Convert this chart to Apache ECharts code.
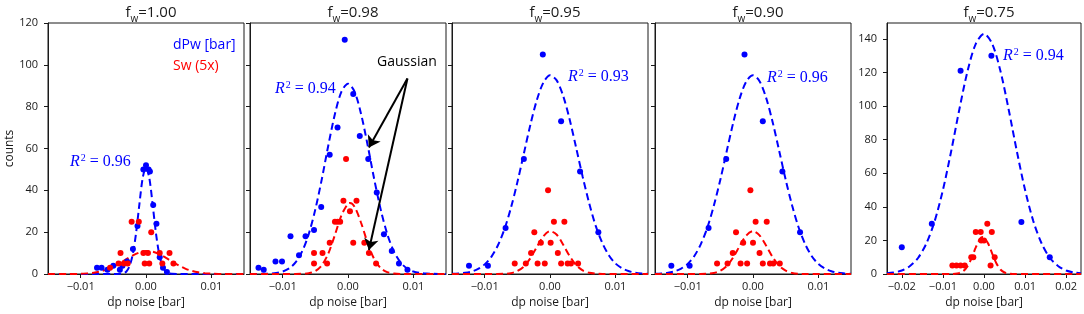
<!DOCTYPE html>
<html>
<head>
<meta charset="utf-8">
<script src="https://cdn.jsdelivr.net/npm/echarts@6/dist/echarts.min.js"></script>
<style>
  html, body { margin: 0; padding: 0; background: #fff; }
  #chart { width: 1084px; height: 314px; }
</style>
</head>
<body>
<div id="chart"></div>
<script>
// panel titles (f_w) and fit quality
const fwLabels = ['1.00', '0.98', '0.95', '0.90', '0.75'];
const r2Labels = ['0.96', '0.94', '0.93', '0.96', '0.94'];

// tick labels
const xTicks = [-0.01, 0, 0.01];
const xTicksWide = [-0.02, -0.01, 0, 0.01, 0.02];
const yTicks = [0, 20, 40, 60, 80, 100, 120];
const yTicksWide = [0, 20, 40, 60, 80, 100, 120, 140];

// f_w = 1.00
const dPw1 = [[-0.0075, 3], [-0.0068, 3], [-0.0059, 2], [-0.0050, 4], [-0.0040, 2], [-0.0036, 4], [-0.0029, 6],
  [-0.0020, 12], [-0.0013, 23], [-0.0004, 50], [0.0000, 52], [0.0004, 50], [0.0006, 49], [0.0011, 33],
  [0.0016, 24], [0.0021, 8], [0.0026, 3], [0.0032, 1]];
const sw1 = [[-0.0055, 3], [-0.0042, 5], [-0.0039, 10], [-0.0034, 5], [-0.0028, 5], [-0.0022, 25], [-0.0011, 25],
  [-0.0004, 10], [-0.0002, 5], [0.0003, 10], [0.0005, 5], [0.0008, 20], [0.0021, 10], [0.0025, 5],
  [0.0036, 10], [0.0042, 5]];
const dPwFit1 = [[-0.015, 0], [-0.005, 0], [-0.004, 0.1], [-0.0035, 0.3], [-0.003, 1.2], [-0.0025, 3.9], [-0.002, 9.8],
  [-0.0015, 20.1], [-0.001, 33.7], [-0.0005, 46], [0, 51], [0.0005, 46], [0.001, 33.7], [0.0015, 20.1],
  [0.002, 9.8], [0.0025, 3.9], [0.003, 1.2], [0.0035, 0.3], [0.004, 0.1], [0.005, 0], [0.015, 0]];
const swFit1 = [[-0.015, 0], [-0.012, 0], [-0.010, 0.1], [-0.009, 0.3], [-0.008, 0.6], [-0.007, 1.2], [-0.006, 2.1],
  [-0.005, 3.4], [-0.004, 5.1], [-0.003, 7.1], [-0.002, 8.9], [-0.001, 10.3], [0, 11], [0.001, 10.7],
  [0.002, 9.6], [0.003, 7.8], [0.004, 5.9], [0.005, 4.1], [0.006, 2.6], [0.007, 1.5], [0.008, 0.8],
  [0.009, 0.4], [0.010, 0.2], [0.012, 0], [0.015, 0]];

// f_w = 0.98
const dPw2 = [[-0.0137, 3], [-0.0129, 2], [-0.0111, 6], [-0.0101, 6], [-0.0088, 18], [-0.0075, 9], [-0.0065, 18],
  [-0.0052, 21], [-0.0041, 32], [-0.0028, 57], [-0.0016, 70], [-0.0005, 112], [0.0008, 86], [0.0018, 66],
  [0.0031, 55], [0.0044, 39], [0.0055, 19], [0.0067, 11], [0.0078, 5], [0.0091, 2]];
const sw2 = [[-0.0052, 10], [-0.0052, 5], [-0.0039, 10], [-0.0032, 5], [-0.0028, 15], [-0.0020, 25], [-0.0016, 25],
  [-0.0012, 25], [-0.0007, 35], [-0.0003, 55], [0.0003, 30], [0.0008, 15], [0.0013, 35], [0.0025, 15],
  [0.0032, 10], [0.0043, 5]];
const dPwFit2 = [[-0.015, 0], [-0.013, 0.1], [-0.012, 0.2], [-0.011, 0.5], [-0.010, 1.2], [-0.009, 2.7], [-0.008, 5.7],
  [-0.007, 10.9], [-0.006, 19.2], [-0.005, 30.9], [-0.004, 45.5], [-0.003, 61.7], [-0.002, 76.5], [-0.001, 87.2],
  [0, 91], [0.001, 87.2], [0.002, 76.5], [0.003, 61.7], [0.004, 45.5], [0.005, 30.9], [0.006, 19.2],
  [0.007, 10.9], [0.008, 5.7], [0.009, 2.7], [0.010, 1.2], [0.011, 0.5], [0.012, 0.2], [0.013, 0.1], [0.015, 0]];
const swFit2 = [[-0.015, 0], [-0.008, 0], [-0.007, 0.1], [-0.006, 0.4], [-0.005, 1.4], [-0.004, 4.2], [-0.003, 9.9],
  [-0.002, 18.7], [-0.001, 28.1], [0, 33.7], [0.0003, 34], [0.001, 32.2], [0.002, 24.5], [0.003, 14.9],
  [0.004, 7.2], [0.005, 2.8], [0.006, 0.9], [0.007, 0.2], [0.008, 0], [0.015, 0]];

// f_w = 0.95
const dPw3 = [[-0.0124, 4], [-0.0095, 4], [-0.0068, 22], [-0.0040, 55], [-0.0011, 105], [0.0017, 73],
  [0.0046, 49], [0.0074, 20]];
const sw3 = [[-0.0054, 5], [-0.0037, 5], [-0.0029, 10], [-0.0024, 20], [-0.0019, 5], [-0.0014, 15], [-0.0008, 5],
  [-0.0003, 40], [0.0001, 15], [0.0006, 25], [0.0012, 10], [0.0017, 5], [0.0022, 25], [0.0027, 5],
  [0.0032, 5], [0.0043, 5]];
const dPwFit3 = [[-0.015, 0.1], [-0.014, 0.3], [-0.013, 0.6], [-0.012, 1.2], [-0.011, 2.4], [-0.010, 4.6], [-0.009, 8.1],
  [-0.008, 13.5], [-0.007, 21.2], [-0.006, 31.4], [-0.005, 43.8], [-0.004, 57.6], [-0.003, 71.4], [-0.002, 83.3],
  [-0.001, 91.6], [0, 95], [0.001, 92.7], [0.002, 85.3], [0.003, 74], [0.004, 60.4], [0.005, 46.5],
  [0.006, 33.8], [0.007, 23], [0.008, 14.9], [0.009, 9], [0.010, 5.1], [0.011, 2.8], [0.012, 1.4],
  [0.013, 0.7], [0.014, 0.3], [0.015, 0.1]];
const swFit3 = [[-0.015, 0], [-0.008, 0], [-0.007, 0.1], [-0.006, 0.4], [-0.005, 1.4], [-0.004, 3.6], [-0.003, 7.6],
  [-0.002, 13], [-0.001, 18.1], [0, 20.5], [0.001, 18.9], [0.002, 14.1], [0.003, 8.6], [0.004, 4.3],
  [0.005, 1.7], [0.006, 0.6], [0.007, 0.2], [0.008, 0], [0.015, 0]];

// f_w = 0.90
const dPw4 = [[-0.0125, 4], [-0.0097, 4], [-0.0068, 22], [-0.0041, 55], [-0.0013, 105], [0.0015, 73],
  [0.0045, 49], [0.0072, 20]];
const sw4 = [[-0.0055, 5], [-0.0039, 5], [-0.0031, 10], [-0.0026, 20], [-0.0019, 5], [-0.0015, 15], [-0.0009, 5],
  [-0.0004, 40], [0.0000, 15], [0.0004, 25], [0.0010, 10], [0.0015, 5], [0.0021, 25], [0.0026, 5],
  [0.0031, 5], [0.0041, 5]];
const dPwFit4 = [[-0.015, 0.1], [-0.014, 0.3], [-0.013, 0.6], [-0.012, 1.3], [-0.011, 2.6], [-0.010, 4.8], [-0.009, 8.5],
  [-0.008, 14.2], [-0.007, 22.1], [-0.006, 32.6], [-0.005, 45.1], [-0.004, 59], [-0.003, 72.7], [-0.002, 84.3],
  [-0.001, 92.2], [0, 95], [0.001, 92.2], [0.002, 84.3], [0.003, 72.7], [0.004, 59], [0.005, 45.1],
  [0.006, 32.6], [0.007, 22.1], [0.008, 14.2], [0.009, 8.5], [0.010, 4.8], [0.011, 2.6], [0.012, 1.3],
  [0.013, 0.6], [0.014, 0.3], [0.015, 0.1]];
const swFit4 = [[-0.015, 0], [-0.008, 0], [-0.007, 0.1], [-0.006, 0.5], [-0.005, 1.6], [-0.004, 3.9], [-0.003, 8.1],
  [-0.002, 13.6], [-0.001, 18.5], [0, 20.5], [0.001, 18.5], [0.002, 13.6], [0.003, 8.1], [0.004, 3.9],
  [0.005, 1.6], [0.006, 0.5], [0.007, 0.1], [0.008, 0], [0.015, 0]];

// f_w = 0.75
const dPw5 = [[-0.0200, 16], [-0.0127, 30], [-0.0057, 121], [0.0018, 130], [0.0091, 31], [0.0160, 10]];
const sw5 = [[-0.0077, 5], [-0.0067, 5], [-0.0057, 5], [-0.0047, 5], [-0.0031, 10], [-0.0026, 10], [-0.0020, 25],
  [-0.0008, 25], [-0.0007, 20], [0.0000, 20], [0.0008, 30], [0.0016, 5], [0.0019, 25], [0.0026, 10]];
const dPwFit5 = [[-0.0236, 0.5], [-0.022, 0.9], [-0.020, 2.1], [-0.018, 4.8], [-0.016, 9.7], [-0.014, 18.3],
  [-0.012, 31.5], [-0.010, 50], [-0.008, 73], [-0.006, 98], [-0.004, 120.9], [-0.002, 137.1], [0, 143],
  [0.002, 137.1], [0.004, 120.9], [0.006, 98], [0.008, 73], [0.010, 50], [0.012, 31.5], [0.014, 18.3],
  [0.016, 9.7], [0.018, 4.8], [0.020, 2.1], [0.022, 0.9], [0.0236, 0.5]];
const swFit5 = [[-0.0236, 0], [-0.008, 0], [-0.007, 0.1], [-0.006, 0.6], [-0.005, 1.8], [-0.004, 4.7], [-0.003, 9.6],
  [-0.002, 15.8], [-0.001, 20.8], [-0.0003, 22], [0, 21.8], [0.001, 18.2], [0.002, 12.1], [0.003, 6.4],
  [0.004, 2.7], [0.005, 0.9], [0.006, 0.2], [0.007, 0], [0.0236, 0]];

// "Gaussian" arrows (data coords of panel 2)
const arrowStart = [0.0091, 93.5];
const arrowEnds = [[0.0032, 60.5], [0.0032, 11.5]];

const FONT = '"Open Sans", "Noto Sans", sans-serif';
const SERIF = '"Liberation Serif", "DejaVu Serif", serif';
const BLUE = '#0000ff';
const RED = '#ff0000';
const INK = '#1a1a1a';

const panels = [
  { dPw: dPw1, sw: sw1, dPwFit: dPwFit1, swFit: swFit1, left: 48, width: 196, xMax: 0.015, yMax: 120, r2Pos: [70, 163] },
  { dPw: dPw2, sw: sw2, dPwFit: dPwFit2, swFit: swFit2, left: 250, width: 196, xMax: 0.015, yMax: 120, r2Pos: [275, 90] },
  { dPw: dPw3, sw: sw3, dPwFit: dPwFit3, swFit: swFit3, left: 452, width: 196, xMax: 0.015, yMax: 120, r2Pos: [568, 78] },
  { dPw: dPw4, sw: sw4, dPwFit: dPwFit4, swFit: swFit4, left: 655, width: 196, xMax: 0.015, yMax: 120, r2Pos: [767, 79] },
  { dPw: dPw5, sw: sw5, dPwFit: dPwFit5, swFit: swFit5, left: 887, width: 194, xMax: 0.0236, yMax: 149.5, r2Pos: [1003, 57] },
];

function fmtX(v) {
  if (Math.abs(v) < 1e-9) return '0.00';
  return (v < 0 ? '\u2212' : '') + Math.abs(v).toFixed(2);
}

let myChart = echarts.init(document.getElementById('chart'), null, { renderer: 'canvas' });

let grids = [], xAxes = [], yAxes = [], titles = [], series = [], graphics = [];

panels.forEach((p, i) => {
  let wide = i === 4;
  grids.push({
    left: p.left, width: p.width, top: 23, height: 251,
    show: true, borderColor: INK, borderWidth: 1, backgroundColor: 'transparent',
  });
  titles.push({
    text: '{a|f}{s|w}{a|=' + fwLabels[i] + '}',
    left: p.left + p.width / 2, top: 0, textAlign: 'center',
    textStyle: {
      fontWeight: 'normal',
      rich: {
        a: { fontSize: 15, fontWeight: 'normal', fontFamily: FONT, color: INK, verticalAlign: 'bottom', padding: [0, 0, 4, 0] },
        s: { fontSize: 10, fontWeight: 'normal', fontFamily: FONT, color: INK, verticalAlign: 'bottom' },
      },
    },
  });
  let xt = wide ? xTicksWide : xTicks;
  xAxes.push({
    gridIndex: i, type: 'value', min: -p.xMax, max: p.xMax,
    name: 'dp noise [bar]', nameLocation: 'middle', nameGap: 22,
    nameTextStyle: { fontSize: 12, fontFamily: FONT, color: INK },
    axisLine: { show: true, onZero: false, lineStyle: { color: INK } },
    axisTick: { show: true, length: 4, customValues: xt, lineStyle: { color: INK } },
    axisLabel: { customValues: xt, formatter: fmtX, margin: 7, fontSize: 11, fontFamily: FONT, color: INK },
    splitLine: { show: false },
  });
  let yt = wide ? yTicksWide : yTicks;
  yAxes.push({
    gridIndex: i, type: 'value', min: 0, max: p.yMax,
    name: i === 0 ? 'counts' : '', nameLocation: 'middle', nameGap: 32,
    nameTextStyle: { fontSize: 12, fontFamily: FONT, color: INK },
    axisLine: { show: true, onZero: false, lineStyle: { color: INK } },
    axisTick: { show: true, length: 4, customValues: yt, lineStyle: { color: INK } },
    axisLabel: { show: i === 0 || wide, customValues: yt, margin: 10, fontSize: 11, fontFamily: FONT, color: INK },
    splitLine: { show: false },
  });

  // fitted curves
  series.push({
    type: 'line', xAxisIndex: i, yAxisIndex: i, data: p.dPwFit, showSymbol: false, smooth: 0.3,
    lineStyle: { color: BLUE, width: 2, type: [7, 4] }, silent: true, z: 2,
  });
  series.push({
    type: 'line', xAxisIndex: i, yAxisIndex: i, data: p.swFit, showSymbol: false, smooth: 0.3,
    lineStyle: { color: RED, width: 2, type: [7, 4] }, silent: true, z: 2,
  });
  // measured counts
  let blueDots = {
    name: i === 0 ? 'dPw [bar]' : 'dPw' + i, type: 'scatter', xAxisIndex: i, yAxisIndex: i,
    data: p.dPw, symbolSize: 6, itemStyle: { color: BLUE, opacity: 1 }, z: 3,
  };
  if (i === 1) {
    blueDots.markLine = {
      silent: true, symbol: ['none', 'arrow'], symbolSize: 11,
      itemStyle: { color: '#000' },
      lineStyle: { color: '#000', width: 2, type: 'solid', opacity: 1 }, label: { show: false },
      emphasis: { disabled: true },
      data: arrowEnds.map((e) => [{ coord: arrowStart }, { coord: e }]),
    };
  }
  series.push(blueDots);
  series.push({
    name: i === 0 ? 'Sw (5x)' : 'Sw' + i, type: 'scatter', xAxisIndex: i, yAxisIndex: i,
    data: p.sw, symbolSize: 6, itemStyle: { color: RED, opacity: 1 }, z: 3,
  });

  // R^2 annotation
  graphics.push({
    type: 'text', left: p.r2Pos[0], top: p.r2Pos[1] - 10,
    style: {
      text: '{r|R}{s|2}{t| = ' + r2Labels[i] + '}',
      fill: BLUE,
      rich: {
        r: { fontSize: 16, fontStyle: 'italic', fontFamily: SERIF, fill: BLUE, verticalAlign: 'bottom' },
        s: { fontSize: 10, fontFamily: SERIF, fill: BLUE, verticalAlign: 'bottom', padding: [0, 0, 7, 1] },
        t: { fontSize: 16, fontFamily: SERIF, fill: BLUE, verticalAlign: 'bottom' },
      },
    },
  });
});

graphics.push({
  type: 'text', left: 377, top: 55,
  style: { text: 'Gaussian', fill: '#000', font: '14px "Open Sans", sans-serif' },
});

let option = {
  animation: false,
  backgroundColor: '#fff',
  title: titles,
  legend: {
    left: 163, top: 33, orient: 'vertical', icon: 'none', itemWidth: 0, itemHeight: 14, itemGap: 7,
    selectedMode: false,
    textStyle: { fontSize: 14, fontFamily: FONT },
    data: [
      { name: 'dPw [bar]', textStyle: { color: BLUE } },
      { name: 'Sw (5x)', textStyle: { color: RED } },
    ],
  },
  grid: grids,
  xAxis: xAxes,
  yAxis: yAxes,
  series: series,
  graphic: graphics,
};

myChart.setOption(option, true);
window.addEventListener('resize', () => {
  myChart.resize();
});
</script>
</body>
</html>
